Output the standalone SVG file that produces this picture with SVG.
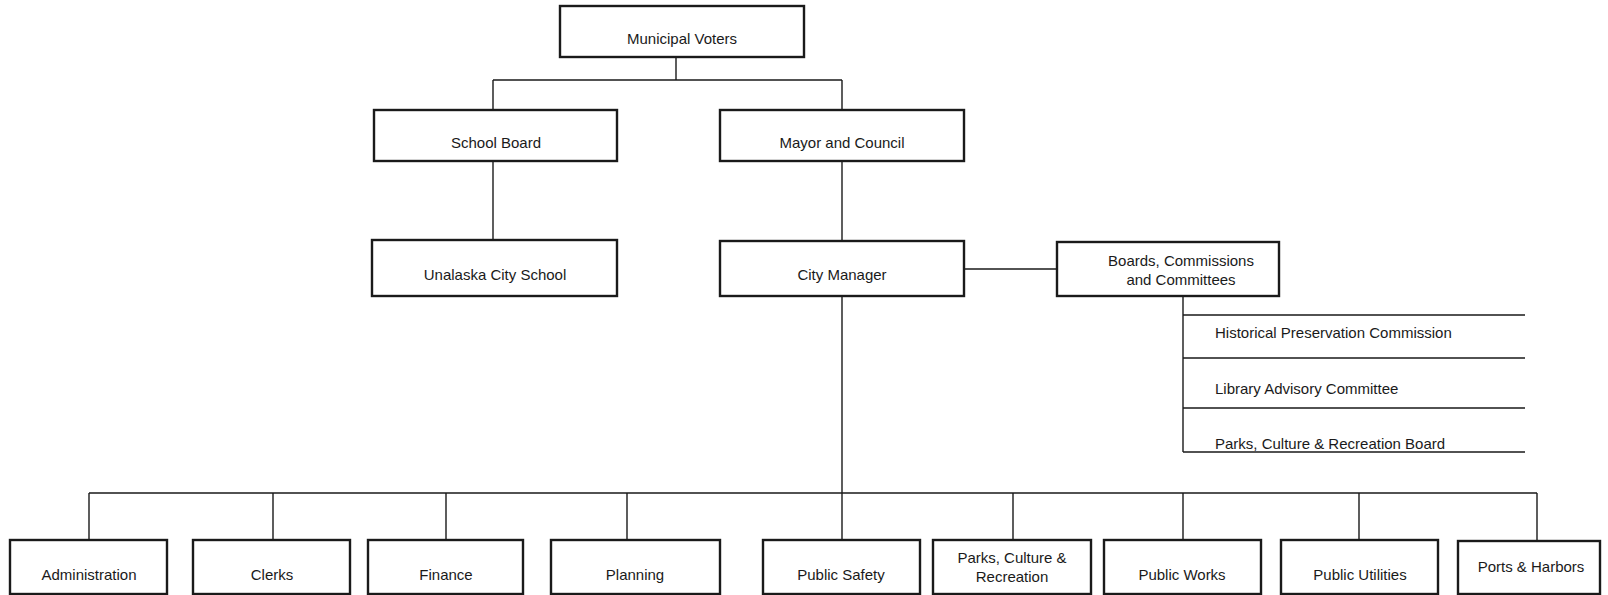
<svg xmlns="http://www.w3.org/2000/svg" width="1608" height="595" viewBox="0 0 1608 595">
<style>
.box{fill:#fff;stroke:#1a1a1a;stroke-width:2.4}
.t{font-family:"Liberation Sans",Arial,sans-serif;font-size:15px;fill:#1a1a1a;text-anchor:middle}
.tl{font-family:"Liberation Sans",Arial,sans-serif;font-size:15px;fill:#1a1a1a}
.c{fill:none;stroke:#1a1a1a;stroke-width:1.4}
</style>
<rect width="1608" height="595" fill="#fff"/>
<g id="connectors">
<path class="c" d="M676 57V80M493 80H842M493 80V110M842 80V110"/>
<path class="c" d="M493 161V240"/>
<path class="c" d="M842 161V241"/>
<path class="c" d="M964 269H1057"/>
<path class="c" d="M842 296V493M89 493H1537"/>
<path class="c" d="M89 493V540M273 493V540M446 493V540M627 493V540M842 493V540M1013 493V540M1183 493V540M1359 493V540M1537 493V541"/>
<path class="c" d="M1183 296V452M1183 315H1525M1183 358H1525M1183 408H1525M1183 452H1525"/>
</g>
<g id="municipal-voters"><rect class="box" x="560" y="6" width="244" height="51"/><text class="t" x="682" y="44">Municipal Voters</text></g>
<g id="school-board"><rect class="box" x="374" y="110" width="243" height="51"/><text class="t" x="496" y="148">School Board</text></g>
<g id="mayor-council"><rect class="box" x="720" y="110" width="244" height="51"/><text class="t" x="842" y="148">Mayor and Council</text></g>
<g id="unalaska-city-school"><rect class="box" x="372" y="240" width="245" height="56"/><text class="t" x="495" y="280">Unalaska City School</text></g>
<g id="city-manager"><rect class="box" x="720" y="241" width="244" height="55"/><text class="t" x="842" y="280">City Manager</text></g>
<g id="boards"><rect class="box" x="1057" y="242" width="222" height="54"/><text class="t" x="1181" y="266">Boards, Commissions</text><text class="t" x="1181" y="285">and Committees</text></g>
<g id="historical"><text class="tl" x="1215" y="338">Historical Preservation Commission</text></g>
<g id="library"><text class="tl" x="1215" y="394">Library Advisory Committee</text></g>
<g id="parks-board"><text class="tl" x="1215" y="449">Parks, Culture &amp; Recreation Board</text></g>
<g id="administration"><rect class="box" x="10" y="540" width="157" height="54"/><text class="t" x="89" y="580">Administration</text></g>
<g id="clerks"><rect class="box" x="193" y="540" width="157" height="54"/><text class="t" x="272" y="580">Clerks</text></g>
<g id="finance"><rect class="box" x="368" y="540" width="155" height="54"/><text class="t" x="446" y="580">Finance</text></g>
<g id="planning"><rect class="box" x="551" y="540" width="169" height="54"/><text class="t" x="635" y="580">Planning</text></g>
<g id="public-safety"><rect class="box" x="763" y="540" width="157" height="54"/><text class="t" x="841" y="580">Public Safety</text></g>
<g id="parks-dept"><rect class="box" x="933" y="540" width="158" height="54"/><text class="t" x="1012" y="563">Parks, Culture &amp;</text><text class="t" x="1012" y="582">Recreation</text></g>
<g id="public-works"><rect class="box" x="1104" y="540" width="157" height="54"/><text class="t" x="1182" y="580">Public Works</text></g>
<g id="public-utilities"><rect class="box" x="1281" y="540" width="157" height="54"/><text class="t" x="1360" y="580">Public Utilities</text></g>
<g id="ports-harbors"><rect class="box" x="1458" y="541" width="142" height="53"/><text class="t" x="1531" y="572">Ports &amp; Harbors</text></g>
</svg>
